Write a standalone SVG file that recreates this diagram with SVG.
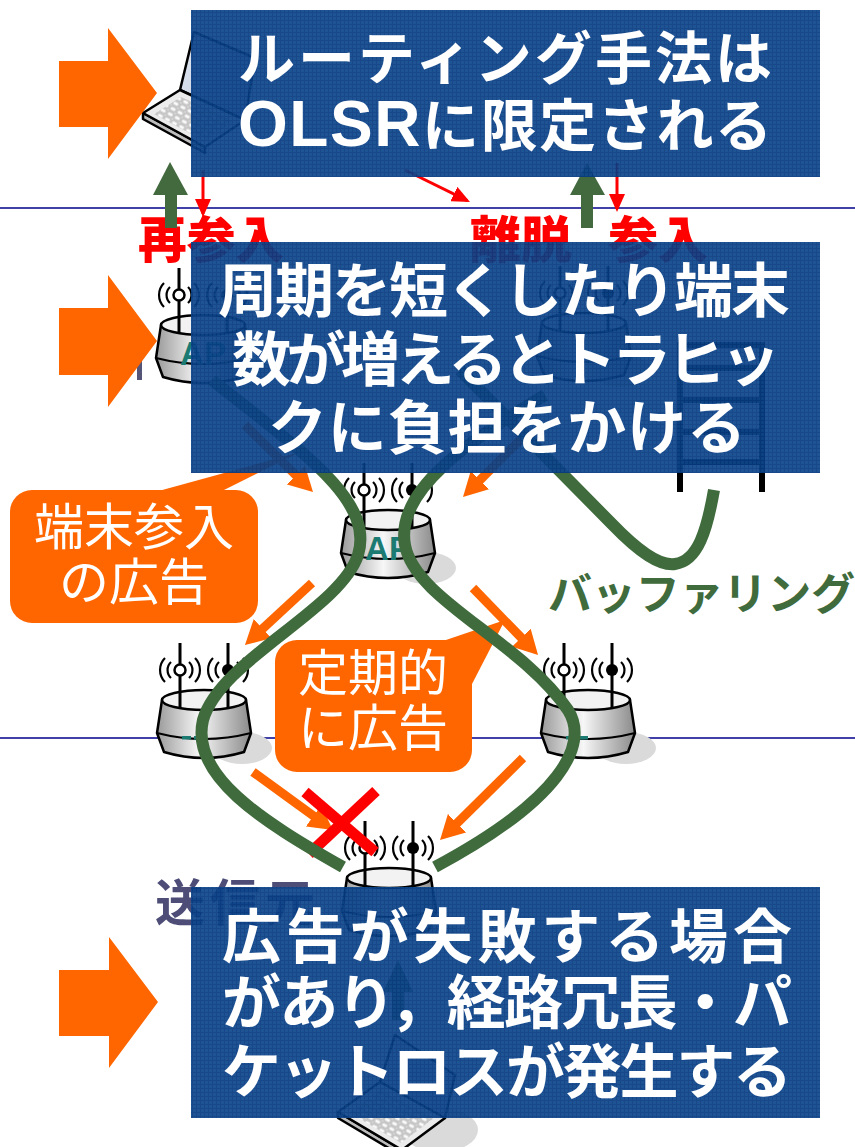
<svg xmlns="http://www.w3.org/2000/svg" width="855" height="1147" viewBox="0 0 855 1147">
  <style>
    .navy { stroke:#00008b; stroke-width:1.5; }
    .jp { font-family:"Noto Sans CJK JP","Noto Sans",sans-serif; }
    .redlbl { font-size:50px; font-weight:900; fill:#ff0000; }
    .slate { fill:#4d4d78; font-size:50px; font-weight:700; }
    .box { fill:url(#mesh); opacity:0.93; }
    .boxtxt { fill:#ffffff; font-weight:700; }
    .green { fill:none; stroke:#3f6b3d; stroke-width:12; }
    .greenfill { fill:#426a3e; }
    .oarrow { stroke:#ff6600; stroke-width:9; fill:none; marker-end:url(#ohead); }
    .rarrow { stroke:#ff0000; stroke-width:3; fill:none; marker-end:url(#rhead); }
    .callout { fill:#ff6600; }
    .calltxt { fill:#ffffff; font-size:50px; text-anchor:middle; }
    .bigarrow { fill:#ff6600; }
    .aptxt { font-family:"Liberation Sans",Arial,sans-serif; font-weight:700; font-size:33px; fill:#1b7b73; text-anchor:middle; }
    .outline { stroke:#000; stroke-width:2.5; stroke-linejoin:round; }
  </style>
  <defs>
    <pattern id="mesh" width="4" height="4" patternUnits="userSpaceOnUse">
      <rect width="4" height="4" fill="#0d468c"/>
      <path d="M0 0.5H4M0.5 0V4" stroke="#073a80" stroke-width="1"/>
    </pattern>
    <pattern id="keys" width="8" height="6" patternUnits="userSpaceOnUse" patternTransform="rotate(28)">
      <rect width="8" height="6" fill="#d8d8d8"/>
      <rect x="1" y="1" width="6" height="4" fill="#fafafa" stroke="#9a9a9a" stroke-width="0.6"/>
    </pattern>
    <linearGradient id="bodyGrad" x1="0" y1="0" x2="1" y2="0">
      <stop offset="0" stop-color="#9a9a9a"/>
      <stop offset="0.45" stop-color="#f7f7f7"/>
      <stop offset="1" stop-color="#8a8a8a"/>
    </linearGradient>
    <linearGradient id="screenGrad" x1="0" y1="0" x2="1" y2="1">
      <stop offset="0" stop-color="#e4eaf4"/>
      <stop offset="1" stop-color="#b8c4d8"/>
    </linearGradient>
    <marker id="ohead" viewBox="0 0 24 26" refX="8" refY="13" markerWidth="24" markerHeight="26" markerUnits="userSpaceOnUse" orient="auto">
      <path d="M0,0 L24,13 L0,26 Z" fill="#ff6600"/>
    </marker>
    <marker id="rhead" viewBox="0 0 18 16" refX="15" refY="8" markerWidth="18" markerHeight="16" markerUnits="userSpaceOnUse" orient="auto">
      <path d="M0,0 L18,8 L0,16 Z" fill="#ff0000"/>
    </marker>
    <!-- access point: origin at the centre of the top rim -->
    <g id="ap-shape">
      <ellipse cx="38" cy="48" rx="30" ry="16" fill="#dadada"/>
      <path class="outline" d="M-42,0 L-47,33 L-40,52 Q0,64 40,52 L47,33 L42,0 Z" fill="url(#bodyGrad)"/>
      <path d="M-47,33 Q0,45 47,33" fill="none" stroke="#000" stroke-width="2"/>
      <ellipse class="outline" cx="0" cy="0" rx="42" ry="10" fill="#f2f2f2"/>
      <path d="M-24,-57 V8 M24,-57 V8" stroke="#000" stroke-width="3"/>
      <g fill="none" stroke="#000" stroke-width="2.2">
        <path d="M-33,-38 A11 11 0 0 0 -33,-22 M-39,-42 A17 17 0 0 0 -39,-18"/>
        <path d="M-15,-38 A11 11 0 0 1 -15,-22 M-9,-42 A17 17 0 0 1 -9,-18"/>
        <path d="M15,-38 A11 11 0 0 0 15,-22 M9,-42 A17 17 0 0 0 9,-18"/>
        <path d="M33,-38 A11 11 0 0 1 33,-22 M39,-42 A17 17 0 0 1 39,-18"/>
      </g>
      <circle cx="-24" cy="-30" r="5.5" fill="#fff" stroke="#000" stroke-width="2.5"/>
      <circle cx="24" cy="-30" r="6" fill="#000"/>
    </g>
  </defs>

  <rect width="855" height="1147" fill="#ffffff"/>

  <!-- layer separators -->
  <g id="separators">
    <line class="navy" x1="0" y1="208" x2="855" y2="208"/>
    <line class="navy" x1="0" y1="738" x2="855" y2="738"/>
  </g>

  <!-- join / leave labels -->
  <g id="labels-red" class="jp redlbl">
    <text x="138" y="258" textLength="146" lengthAdjust="spacingAndGlyphs">再参入</text>
    <text x="470" y="258" textLength="102" lengthAdjust="spacingAndGlyphs">離脱</text>
    <text x="608" y="258" textLength="100" lengthAdjust="spacingAndGlyphs">参入</text>
  </g>

  <!-- mobile terminal (top) -->
  <g id="laptop-top">
    <polygon class="outline" points="194,32 255,58 245,120 180,90" fill="url(#screenGrad)"/>
    <polygon class="outline" points="143,113 143,119 205,153 205,147" fill="#bdbdbd"/>
    <polygon class="outline" points="180,90 245,120 205,147 143,113" fill="#ececec"/>
    <polygon points="181,97 234,121 204,141 154,114" fill="url(#keys)"/>
  </g>

  <!-- access points -->
  <g id="ap-top-left">
    <use href="#ap-shape" transform="translate(203,325)"/>
    <text class="aptxt" x="203" y="365">AP</text>
  </g>
  <g id="ap-top-center">
    <use href="#ap-shape" transform="translate(584,323)"/>
  </g>
  <g id="ap-center">
    <use href="#ap-shape" transform="translate(388,520)"/>
    <text class="aptxt" x="388" y="560">AP</text>
  </g>
  <g id="ap-mid-left">
    <use href="#ap-shape" transform="translate(204,700)"/>
    <rect x="182" y="736" width="9" height="3.5" fill="#1b7b73"/>
    <rect x="194" y="736" width="10" height="3.5" fill="#1b7b73"/>
  </g>
  <g id="ap-mid-right">
    <use href="#ap-shape" transform="translate(588,700)"/>
    <rect x="566" y="736" width="9" height="3.5" fill="#1b7b73"/>
    <rect x="578" y="736" width="10" height="3.5" fill="#1b7b73"/>
  </g>
  <g id="ap-bottom">
    <use href="#ap-shape" transform="translate(389,878)"/>
  </g>

  <!-- source terminal (bottom) -->
  <g id="laptop-bottom">
    <ellipse cx="440" cy="1130" rx="38" ry="22" fill="#dadada"/>
    <polygon class="outline" points="395,1035 455,1075 445,1118 380,1082" fill="url(#screenGrad)"/>
    <polygon class="outline" points="338,1112 338,1118 402,1156 402,1150" fill="#bdbdbd"/>
    <polygon class="outline" points="380,1082 445,1118 402,1150 338,1112" fill="#ececec"/>
    <polygon points="381,1089 434,1118 401,1143 350,1113" fill="url(#keys)"/>
    <polygon class="greenfill" points="383,992 413,992 398,960"/>
    <rect class="greenfill" x="392" y="991" width="12" height="29"/>
  </g>

  <g id="source-label" class="jp slate">
    <text x="155" y="921" textLength="160" lengthAdjust="spacing">送信元</text>
  </g>
  <rect id="dest-label-edge" x="137" y="360" width="5" height="20" fill="#55557a"/>

  <!-- buffer queue -->
  <g id="buffer" fill="none" stroke="#000" stroke-width="6">
    <path d="M680,492 V345 H762 V492"/>
    <path d="M680,368 H762 M680,400 H762 M680,432 H762 M680,462 H762"/>
  </g>

  <!-- advertisement callouts -->
  <g id="callout-join" class="jp">
    <polygon class="callout" points="155,492 220,492 300,452"/>
    <rect class="callout" x="10" y="490" width="248" height="133" rx="22"/>
    <text class="calltxt" x="134" y="545">端末参入</text>
    <text class="calltxt" x="134" y="600">の広告</text>
  </g>
  <g id="callout-periodic" class="jp">
    <polygon class="callout" points="440,642 472,684 505,620"/>
    <rect class="callout" x="275" y="640" width="197" height="132" rx="22"/>
    <text class="calltxt" x="373" y="691">定期的</text>
    <text class="calltxt" x="373" y="746">に広告</text>
  </g>

  <!-- connectors -->
  <g id="connectors">
    <!-- advertisement flooding -->
    <line class="oarrow" x1="245" y1="425" x2="301.6" y2="480.8"/>
    <line class="oarrow" x1="525" y1="435" x2="474.3" y2="485.7"/>
    <line class="oarrow" x1="312" y1="583" x2="256.7" y2="634.1"/>
    <line class="oarrow" x1="473" y1="588" x2="526.9" y2="643.5"/>
    <line class="oarrow" x1="253" y1="772" x2="320" y2="820.6"/>
    <line class="oarrow" x1="523" y1="758" x2="451.4" y2="828.8"/>
    <!-- failed advertisement -->
    <g id="fail-mark" stroke="#ff0000" stroke-width="11">
      <line x1="305" y1="792" x2="375" y2="852"/>
      <line x1="376" y1="791" x2="309" y2="854"/>
    </g>
    <!-- routes -->
    <path class="green" d="M212,380 C300,450 375,500 358,555 C340,610 220,660 203,720 C190,775 260,820 343,867"/>
    <path class="green" d="M545,395 C470,440 395,490 405,545 C415,600 520,640 568,710 C590,745 560,800 435,867"/>
    <path class="green" d="M460,370 L612,524 C640,553 660,566 675,564 C698,561 707,530 714,490"/>
    <!-- terminal movement -->
    <polygon class="greenfill" points="153,195 188,195 170,162"/>
    <rect class="greenfill" x="165" y="194" width="12" height="34"/>
    <polygon class="greenfill" points="570,195 605,195 587,163"/>
    <rect class="greenfill" x="581" y="194" width="12" height="34"/>
    <line class="rarrow" x1="203" y1="170" x2="203" y2="214"/>
    <line class="rarrow" x1="617" y1="163" x2="617" y2="209"/>
    <line class="rarrow" x1="405" y1="170" x2="467.3" y2="200.7"/>
  </g>

  <g id="label-buffering" class="jp">
    <text x="548" y="610" font-size="44" font-weight="700" fill="#3f6b3d" textLength="307" lengthAdjust="spacing">バッファリング</text>
  </g>

  <!-- pointer arrows -->
  <g id="pointers" class="bigarrow">
    <polygon points="59,61 108,61 108,28 157,93 108,159 108,127 59,127"/>
    <polygon points="59,308 108,308 108,275 157,341 108,407 108,375 59,375"/>
    <polygon points="59,970 109,970 109,937 158,1002 109,1068 109,1036 59,1036"/>
  </g>

  <!-- remark panels -->
  <g id="note-routing" class="jp">
    <rect class="box" x="191" y="10" width="629" height="167"/>
    <text class="boxtxt" x="238" y="79" font-size="57" textLength="534" lengthAdjust="spacing">ルーティング手法は</text>
    <text class="boxtxt" x="238" y="146" font-size="57" textLength="534" lengthAdjust="spacing"><tspan font-family="'Liberation Sans',Arial,sans-serif" font-size="64">OLSR</tspan>に限定される</text>
  </g>
  <g id="note-traffic" class="jp">
    <rect class="box" x="191" y="242" width="629" height="231"/>
    <text class="boxtxt" x="218" y="312" font-size="59" textLength="572" lengthAdjust="spacing">周期を短くしたり端末</text>
    <text class="boxtxt" x="232" y="381" font-size="59" textLength="548" lengthAdjust="spacing">数が増えるとトラヒッ</text>
    <text class="boxtxt" x="268" y="449" font-size="59" textLength="478" lengthAdjust="spacing">クに負担をかける</text>
  </g>
  <g id="note-failure" class="jp">
    <rect class="box" x="191" y="887" width="629" height="231"/>
    <text class="boxtxt" x="222" y="958" font-size="59" textLength="570" lengthAdjust="spacing">広告が失敗する場合</text>
    <text class="boxtxt" x="222" y="1024" font-size="59" textLength="570" lengthAdjust="spacing">があり，経路冗長・パ</text>
    <text class="boxtxt" x="222" y="1093" font-size="59" textLength="570" lengthAdjust="spacing">ケットロスが発生する</text>
  </g>
</svg>
